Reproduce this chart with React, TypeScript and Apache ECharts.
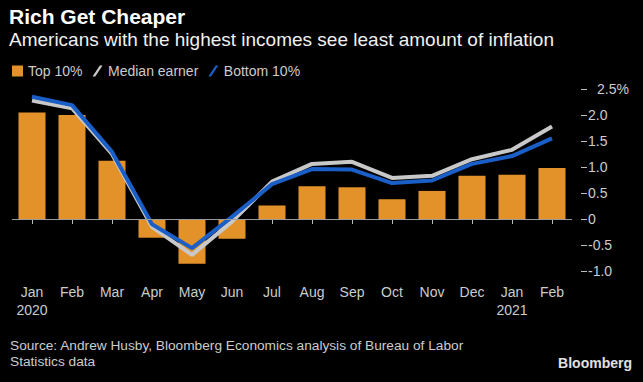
import React, { useEffect, useRef } from "react";
import * as echarts from "echarts";

const categories = ["Jan\n2020", "Feb", "Mar", "Apr", "May", "Jun", "Jul", "Aug", "Sep", "Oct", "Nov", "Dec", "Jan\n2021", "Feb"];
const top10 = [2.05, 2.0, 1.12, -0.36, -0.86, -0.38, 0.26, 0.63, 0.61, 0.38, 0.54, 0.83, 0.85, 0.98];
const median = [2.28, 2.13, 1.25, -0.15, -0.69, -0.05, 0.72, 1.06, 1.1, 0.79, 0.83, 1.15, 1.33, 1.78];
const bottom10 = [2.35, 2.19, 1.29, -0.1, -0.56, 0.04, 0.67, 0.96, 0.95, 0.69, 0.74, 1.06, 1.21, 1.55];
const yTicks = { min: -1, max: 2.5, interval: 0.5 };

const FONT = "Liberation Sans";
const SLASH = "path://M8,0 L11,0 L3,12 L0,12 Z";

export default function App() {
  const ref = useRef<HTMLDivElement>(null);
  useEffect(() => {
    if (!ref.current) return;
    const chart = echarts.init(ref.current, null, { renderer: "svg" });
    chart.setOption({
      animation: false,
      backgroundColor: "#000",
      textStyle: { fontFamily: FONT },
      grid: { left: 12, right: 71, top: 89, bottom: 111 },
      legend: {
        left: 12,
        top: 64,
        padding: 0,
        itemWidth: 11,
        itemHeight: 11,
        itemGap: 10,
        textStyle: { color: "#cccccc", fontSize: 14, fontFamily: FONT },
        data: [
          { name: "Top 10%", icon: "rect" },
          { name: "Median earner", icon: SLASH },
          { name: "Bottom 10%", icon: SLASH },
        ],
      },
      graphic: [
        { type: "text", left: 9, top: 6, style: { text: "Rich Get Cheaper", fill: "#ffffff", font: `bold 21px "${FONT}"` } },
        { type: "text", left: 9, top: 30, style: { text: "Americans with the highest incomes see least amount of inflation", fill: "#f0f0f0", font: `19px "${FONT}"` } },
        { type: "text", left: 10, top: 337, style: { text: "Source: Andrew Husby, Bloomberg Economics analysis of Bureau of Labor\nStatistics data", fill: "#cccccc", font: `13.7px "${FONT}"`, lineHeight: 16 } },
        { type: "text", right: 11, top: 356, style: { text: "Bloomberg", fill: "#e0e0e0", font: `bold 14px "${FONT}"` } },
      ],
      xAxis: {
        type: "category",
        data: categories,
        offset: 4,
        axisLine: { show: false },
        axisTick: { show: true, alignWithLabel: true, length: 5, lineStyle: { color: "#bbbbbb" } },
        axisLabel: { interval: 0, color: "#cccccc", fontSize: 14, lineHeight: 18, margin: 8, fontFamily: FONT },
      },
      yAxis: {
        type: "value",
        position: "right",
        min: yTicks.min,
        max: yTicks.max,
        interval: yTicks.interval,
        offset: 9,
        splitLine: { show: false },
        axisLine: { show: false },
        axisTick: { show: true, length: 6, lineStyle: { color: "#bbbbbb" } },
        axisLabel: {
          color: "#cccccc",
          fontSize: 14,
          margin: 7,
          fontFamily: FONT,
          formatter: (v: number) => (v === 2.5 ? "{p|2.5%}" : v === 0 ? "0" : v.toFixed(1)),
          rich: { p: { padding: [0, 0, 0, 9], color: "#cccccc", fontSize: 14, fontFamily: FONT } },
        },
      },
      series: [
        {
          name: "Top 10%",
          type: "bar",
          data: top10,
          barWidth: 27,
          itemStyle: { color: "#e3922a" },
          markLine: {
            silent: true,
            symbol: "none",
            label: { show: false },
            lineStyle: { color: "#9a9a9a", type: "solid", width: 1 },
            data: [{ yAxis: 0 }],
          },
        },
        {
          name: "Median earner",
          type: "line",
          data: median,
          symbol: "none",
          color: "#c8c8c8",
          lineStyle: { color: "#c8c8c8", width: 4 },
        },
        {
          name: "Bottom 10%",
          type: "line",
          data: bottom10,
          symbol: "none",
          color: "#1a5fc8",
          lineStyle: { color: "#1a5fc8", width: 4 },
        },
      ],
    });
    return () => chart.dispose();
  }, []);
  return <div ref={ref} style={{ position: "absolute", left: 0, top: 0, width: 643, height: 382 }} />;
}
